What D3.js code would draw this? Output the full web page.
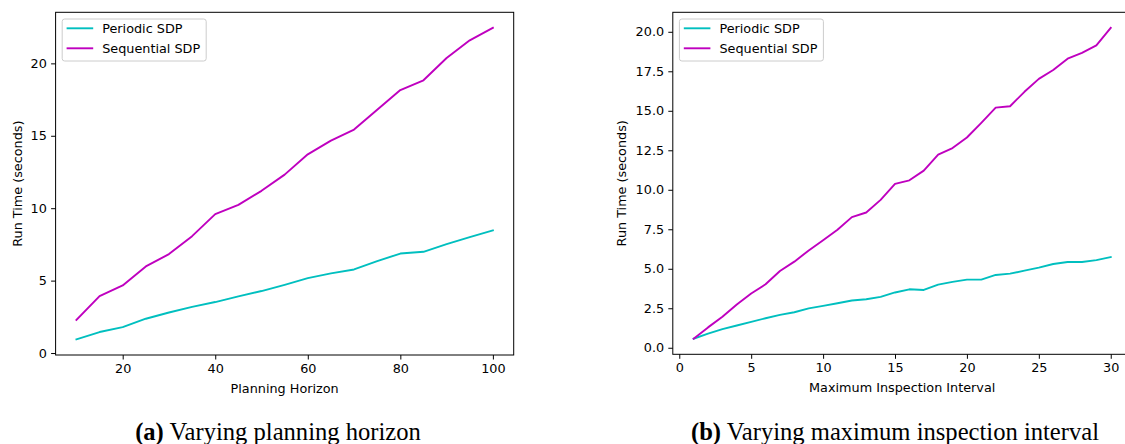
<!DOCTYPE html>
<html>
<head>
<meta charset="utf-8">
<script src="https://cdn.jsdelivr.net/npm/d3@7"></script>
<style>
  html, body { margin: 0; padding: 0; background: #fff; }
  svg { display: block; }
  text { font-family: "DejaVu Sans", sans-serif; fill: #000; }
  .caption { font-family: "Liberation Serif", "DejaVu Serif", serif; }
</style>
</head>
<body>
<svg id="chart" width="1125" height="444"></svg>
<script>
// ---- Data ----
const horizon = [10,15,20,25,30,35,40,45,50,55,60,65,70,75,80,85,90,95,100];
const periodicA = [0.94,1.45,1.79,2.37,2.80,3.19,3.52,3.91,4.28,4.71,5.17,5.50,5.77,6.34,6.87,6.99,7.52,8.00,8.47];
const sequentialA = [2.28,3.93,4.67,5.98,6.83,8.07,9.59,10.23,11.20,12.32,13.72,14.67,15.43,16.80,18.16,18.83,20.37,21.59,22.45];

const interval = [1,2,3,4,5,6,7,8,9,10,11,12,13,14,15,16,17,18,19,20,21,22,23,24,25,26,27,28,29,30];
const periodicB = [0.57,0.89,1.18,1.41,1.64,1.87,2.08,2.25,2.49,2.65,2.82,2.99,3.07,3.22,3.50,3.70,3.66,4.00,4.17,4.31,4.31,4.61,4.69,4.88,5.07,5.30,5.43,5.43,5.55,5.74];
const sequentialB = [0.57,1.29,1.96,2.74,3.43,4.02,4.86,5.45,6.16,6.80,7.47,8.27,8.56,9.36,10.37,10.60,11.21,12.22,12.64,13.31,14.24,15.20,15.29,16.20,17.02,17.58,18.30,18.67,19.14,20.25];

const xTicksA = [20,40,60,80,100];
const yTicksA = [0,5,10,15,20];
const xTicksB = [0,5,10,15,20,25,30];
const yTicksB = [0,2.5,5,7.5,10,12.5,15,17.5,20];

const seriesNames = ["Periodic SDP","Sequential SDP"];
const seriesColors = ["#00bfbf","#bf00bf"];

const xLabelA = "Planning Horizon";
const xLabelB = "Maximum Inspection Interval";
const yLabel = "Run Time (seconds)";
const captionA = ["(a)", " Varying planning horizon"];
const captionB = ["(b)", " Varying maximum inspection interval"];

// ---- Drawing ----
const svg = d3.select("#chart");
svg.append("rect").attr("width",1125).attr("height",444).attr("fill","#fff");

function padded(vals){
  const lo = d3.min(vals), hi = d3.max(vals), m = (hi-lo)*0.05;
  return [lo-m, hi+m];
}

function panel(cfg){
  const g = svg.append("g");
  const x = d3.scaleLinear().domain(padded(cfg.xs)).range([cfg.left, cfg.right]);
  const y = d3.scaleLinear().domain(padded(cfg.series.flat())).range([cfg.bottom, cfg.top]);
  const fs = 12.8;

  // lines
  const line = d3.line().x((d,i)=>x(cfg.xs[i])).y(d=>y(d));
  cfg.series.forEach((s,k)=>{
    g.append("path").datum(s).attr("d",line)
      .attr("fill","none").attr("stroke",seriesColors[k])
      .attr("stroke-width",1.9).attr("stroke-linejoin","round").attr("stroke-linecap","square");
  });

  // frame
  g.append("rect").attr("x",cfg.left).attr("y",cfg.top)
    .attr("width",cfg.right-cfg.left).attr("height",cfg.bottom-cfg.top)
    .attr("fill","none").attr("stroke","#000").attr("stroke-width",1);

  // x axis
  const xa = g.append("g").attr("transform",`translate(0,${cfg.bottom})`)
    .call(d3.axisBottom(x).tickValues(cfg.xTicks).tickSize(4.5).tickPadding(4.2).tickFormat(d3.format("d")));
  xa.select(".domain").remove();
  xa.selectAll("line").attr("stroke","#000").attr("stroke-width",1);
  xa.selectAll("text").attr("font-size",fs).attr("font-family","DejaVu Sans").attr("fill","#000");

  // y axis
  const ya = g.append("g").attr("transform",`translate(${cfg.left},0)`)
    .call(d3.axisLeft(y).tickValues(cfg.yTicks).tickSize(4.5).tickPadding(4.2).tickFormat(cfg.yFmt));
  ya.select(".domain").remove();
  ya.selectAll("line").attr("stroke","#000").attr("stroke-width",1);
  ya.selectAll("text").attr("font-size",fs).attr("font-family","DejaVu Sans").attr("fill","#000");

  // axis labels
  g.append("text").attr("x",(cfg.left+cfg.right)/2).attr("y",cfg.bottom+37.8)
    .attr("text-anchor","middle").attr("font-size",fs).text(cfg.xLabel);
  g.append("text").attr("transform",`translate(${cfg.yLabelX},${(cfg.top+cfg.bottom)/2}) rotate(-90)`)
    .attr("text-anchor","middle").attr("font-size",fs).text(yLabel);

  // legend
  const lg = g.append("g").attr("transform",`translate(${cfg.left+6.6},${cfg.top+6.7})`);
  lg.append("rect").attr("width",144).attr("height",42).attr("rx",2.5)
    .attr("fill","#fff").attr("fill-opacity",0.8).attr("stroke","#cccccc").attr("stroke-width",1);
  seriesNames.forEach((n,k)=>{
    const yy = 9.3 + k*20;
    lg.append("line").attr("x1",4.4).attr("x2",31).attr("y1",yy).attr("y2",yy)
      .attr("stroke",seriesColors[k]).attr("stroke-width",1.9);
    lg.append("text").attr("x",40).attr("y",yy+4.6).attr("font-size",fs).text(n);
  });

  // caption
  const c = svg.append("text").attr("class","caption")
    .attr("x",cfg.capX).attr("y",440).attr("text-anchor","middle").attr("font-size",24.6)
    .style("font-family","'Liberation Serif', serif");
  c.append("tspan").attr("font-weight","bold").text(cfg.caption[0]);
  c.append("tspan").text(cfg.caption[1]);
}

panel({xs:horizon, series:[periodicA, sequentialA], left:55.6, right:513.7, top:12.3, bottom:355,
  xTicks:xTicksA, yTicks:yTicksA, yFmt:d3.format("d"), xLabel:xLabelA, yLabelX:21.5,
  capX:278, caption:captionA});
panel({xs:interval, series:[periodicB, sequentialB], left:672.8, right:1131.6, top:12.3, bottom:354.3,
  xTicks:xTicksB, yTicks:yTicksB, yFmt:d3.format(".1f"), xLabel:xLabelB, yLabelX:625.5,
  capX:895, caption:captionB});
</script>
</body>
</html>
